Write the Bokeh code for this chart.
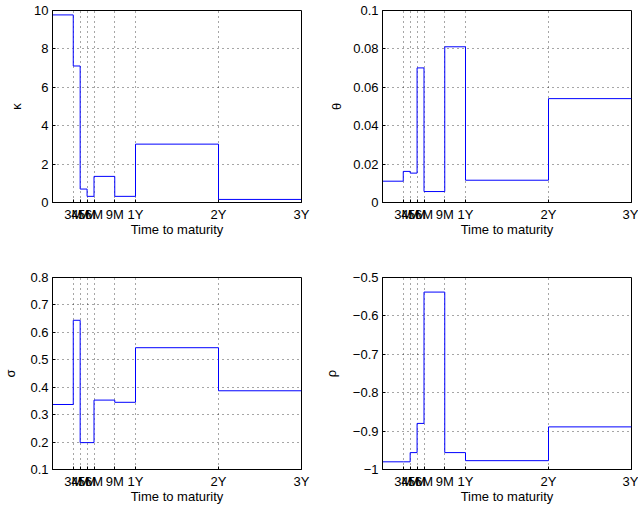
from bokeh.plotting import figure
from bokeh.layouts import gridplot
from bokeh.models import Range1d, FixedTicker
from bokeh.embed import file_html
from bokeh.resources import INLINE
import numpy as np

# ---- data ----
tenor_months = [3, 4, 5, 6, 9, 12, 24, 36]
tenor_labels = ["3M", "4M", "5M", "6M", "9M", "1Y", "2Y", "3Y"]

kappa = [9.77, 7.11, 0.70, 0.32, 1.36, 0.32, 3.04, 0.16]
theta = [0.0111, 0.0162, 0.0153, 0.0701, 0.0057, 0.0811, 0.0116, 0.0541]
sigma = [0.337, 0.644, 0.198, 0.198, 0.353, 0.345, 0.544, 0.387]
rho = [-0.980, -0.980, -0.956, -0.880, -0.538, -0.956, -0.977, -0.889]

kappa_ticks = [0, 2, 4, 6, 8, 10]
kappa_tick_labels = ["0", "2", "4", "6", "8", "10"]
theta_ticks = [0, 0.02, 0.04, 0.06, 0.08, 0.1]
theta_tick_labels = ["0", "0.02", "0.04", "0.06", "0.08", "0.1"]
sigma_ticks = [0.1, 0.2, 0.3, 0.4, 0.5, 0.6, 0.7, 0.8]
sigma_tick_labels = ["0.1", "0.2", "0.3", "0.4", "0.5", "0.6", "0.7", "0.8"]
rho_ticks = [-1, -0.9, -0.8, -0.7, -0.6, -0.5]
rho_tick_labels = ["\u22121", "\u22120.9", "\u22120.8", "\u22120.7", "\u22120.6", "\u22120.5"]

FONT = "Liberation Sans"
FS = "13px"
FRAME_W = 251
FRAME_H = 192


def panel(values, ylab, yticks, ylabels, yr, left, right, top, bottom, lab_standoff):
    p = figure(width=left + FRAME_W + right, height=top + FRAME_H + bottom,
               x_range=Range1d(0, 36), y_range=Range1d(*yr),
               output_backend="svg", toolbar_location=None,
               min_border_left=left, min_border_right=right,
               min_border_top=top, min_border_bottom=bottom)
    edges = [0] + tenor_months
    xs = np.repeat(edges, 2)[1:-1]
    ys = np.repeat(values, 2)
    p.line(xs, ys, line_color="#0000ff", line_width=1)

    xt = FixedTicker(ticks=tenor_months)
    yt = FixedTicker(ticks=yticks)
    p.xaxis.ticker = xt
    p.yaxis.ticker = yt
    p.xgrid.ticker = xt
    p.ygrid.ticker = yt
    p.xaxis.major_label_overrides = dict(zip(tenor_months, tenor_labels))
    p.yaxis.major_label_overrides = dict(zip(yticks, ylabels))
    p.xaxis.axis_label = "Time to maturity"
    p.yaxis.axis_label = ylab
    p.yaxis.axis_label_standoff = lab_standoff
    p.xaxis.axis_label_standoff = -3

    for ax in (p.xaxis[0], p.yaxis[0]):
        ax.major_label_text_font = FONT
        ax.major_label_text_font_size = FS
        ax.major_label_text_color = "black"
        ax.axis_label_text_font = FONT
        ax.axis_label_text_font_size = FS
        ax.axis_label_text_font_style = "normal"
        ax.axis_label_text_color = "black"
        ax.major_tick_in = 3
        ax.major_tick_out = 0
        ax.minor_tick_line_color = None
        ax.major_tick_line_color = "black"
        ax.axis_line_color = "black"
        ax.major_label_standoff = 4

    for g in (p.xgrid[0], p.ygrid[0]):
        g.grid_line_color = "black"
        g.grid_line_alpha = 0.7
        g.grid_line_dash = "1 4"
        g.grid_line_width = 1

    p.outline_line_color = "black"
    p.outline_line_alpha = 1
    p.outline_line_width = 1
    p.background_fill_color = "white"
    p.border_fill_color = "white"
    return p


p1 = panel(kappa, "\u03ba", kappa_ticks, kappa_tick_labels, (0, 10), 50, 19, 10, 50, 7)
p2 = panel(theta, "\u03b8", theta_ticks, theta_tick_labels, (0, 0.1), 60, 7, 10, 50, 6)
p3 = panel(sigma, "\u03c3", sigma_ticks, sigma_tick_labels, (0.1, 0.8), 50, 19, 25, 37, 9)
p4 = panel(rho, "\u03c1", rho_ticks, rho_tick_labels, (-1, -0.5), 60, 7, 25, 37, 11)

grid = gridplot([[p1, p2], [p3, p4]], toolbar_location=None)

open("out.html", "w").write(file_html(grid, INLINE))
